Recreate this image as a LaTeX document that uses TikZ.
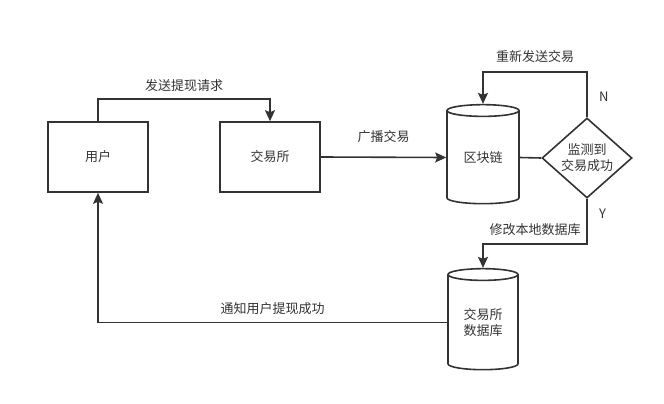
\documentclass[tikz,border=0pt]{standalone}
\usepackage{fontspec}
\setmainfont{Noto Sans CJK SC}
\usepackage{tikz}
\usetikzlibrary{arrows.meta,shapes.geometric}
\definecolor{ink}{HTML}{333333}
\tikzset{
  box/.style={draw=ink, line width=1.6pt, minimum width=100pt, minimum height=70pt, inner sep=0pt},
  db/.style={cylinder, shape border rotate=90, draw=ink, line width=1.6pt, aspect=0.3, inner sep=0pt, align=center},
  decision/.style={diamond, draw=ink, line width=1.6pt, minimum width=90pt, minimum height=70pt, inner sep=0pt, align=center},
  flow/.style={draw=ink, line width=1.6pt, -{Stealth[length=11pt,width=10pt,inset=2pt]}},
  link/.style={draw=ink, line width=1.6pt},
  lab/.style={text=ink, font=\fontsize{13}{16}\selectfont},
}

\begin{document}
\begin{tikzpicture}[x=1pt,y=-1pt,every node/.style={text=ink, font=\fontsize{13}{16}\selectfont}]
  \useasboundingbox (0,0) rectangle (664,404);
  % boxes
  \node[box] (user) at (98,157) {用户};
  \node[box] (exchange) at (270,157) {交易所};
  \node[db, minimum width=72pt, minimum height=99pt] (chain) at (483,157.5) {区块链};
  \node[decision] (check) at (587,158) {监测到\\交易成功};
  \node[db, minimum width=70pt, minimum height=101pt] (store) at (483,322.5) {交易所\\数据库};
  % connectors
  \draw[flow] (user.north) -- ++(0,-22) -| node[lab, pos=0.25, above=3pt] {发送提现请求} (exchange.north);
  \draw[flow] (exchange.east) -- node[lab, above=10pt] {广播交易} (chain.west);
  \draw[link] (chain.east) -- (check.west);
  \draw[flow] (check.north) -- node[lab, pos=0.45, right=8pt] {N} ++(0,-45) -| node[lab, pos=0.25, above=5pt] {重新发送交易} (chain.top);
  \draw[flow] (check.south) -- node[lab, pos=0.33, right=8pt] {Y} ++(0,45) -| node[lab, pos=0.25, above=4pt] {修改本地数据库} (store.top);
  \draw[flow] (store.west) -| node[lab, pos=0.25, above=4pt] {通知用户提现成功} (user.south);
\end{tikzpicture}
\end{document}
